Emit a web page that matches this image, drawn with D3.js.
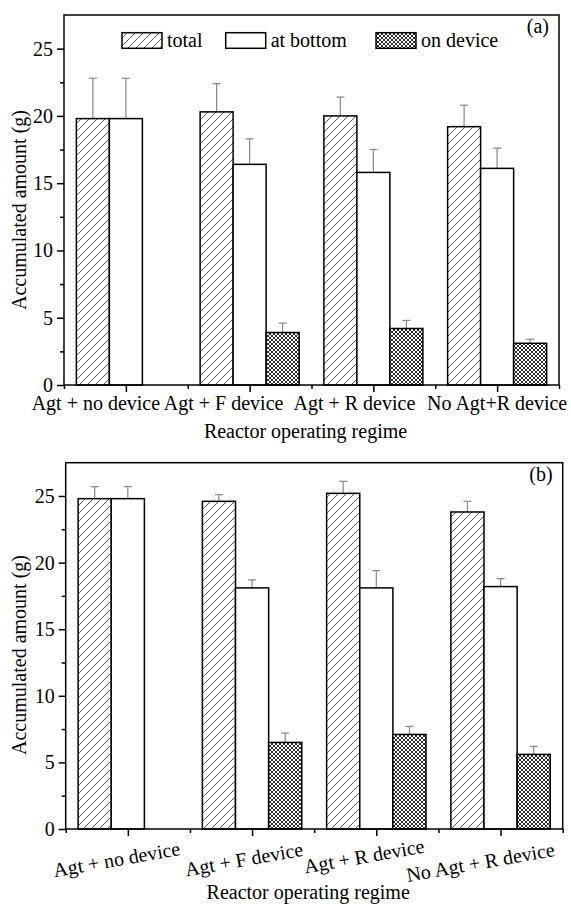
<!DOCTYPE html>
<html>
<head>
<meta charset="utf-8">
<script src="https://cdn.jsdelivr.net/npm/d3@7/dist/d3.min.js"></script>
<style>
  html, body { margin: 0; padding: 0; background: #fff; }
  svg { display: block; }
  svg text { font-family: "Liberation Serif", "DejaVu Serif", serif; }
</style>
</head>
<body>
<svg id="chart" width="571" height="904"></svg>
<script>
// ---------------- DATA ----------------
const seriesNames = ["total", "at bottom", "on device"];
const categoriesA = ["Agt + no device", "Agt + F device", "Agt + R device", "No Agt+R device"];
const categoriesB = ["Agt + no device", "Agt + F device", "Agt + R device", "No Agt + R device"];

const totalA     = [19.8, 20.3, 20.0, 19.2];
const totalErrA  = [3.0, 2.1, 1.4, 1.6];
const bottomA    = [19.8, 16.4, 15.8, 16.1];
const bottomErrA = [3.0, 1.9, 1.7, 1.5];
const deviceA    = [null, 3.9, 4.2, 3.1];
const deviceErrA = [null, 0.7, 0.6, 0.3];

const totalB     = [24.8, 24.6, 25.2, 23.8];
const totalErrB  = [0.9, 0.5, 0.9, 0.8];
const bottomB    = [24.8, 18.1, 18.1, 18.2];
const bottomErrB = [0.9, 0.6, 1.3, 0.6];
const deviceB    = [null, 6.5, 7.1, 5.6];
const deviceErrB = [null, 0.7, 0.6, 0.6];

const yTicks = [0, 5, 10, 15, 20, 25];
const yMinorTicks = [2.5, 7.5, 12.5, 17.5, 22.5];
const yMax = 27.5;
const xTitle = "Reactor operating regime";
const yTitle = "Accumulated amount (g)";

// ---------------- DRAWING ----------------
const FONT = "Liberation Serif, DejaVu Serif, serif";
const svg = d3.select("#chart");
const defs = svg.append("defs");

const hatch = defs.append("pattern").attr("id", "hatch")
  .attr("patternUnits", "userSpaceOnUse").attr("width", 8).attr("height", 8);
hatch.append("rect").attr("width", 8).attr("height", 8).attr("fill", "#fff");
hatch.append("path").attr("d", "M-2,2 L2,-2 M0,8 L8,0 M6,10 L10,6")
  .attr("stroke", "#444").attr("stroke-width", 0.9);

const cross = defs.append("pattern").attr("id", "cross")
  .attr("patternUnits", "userSpaceOnUse").attr("width", 4).attr("height", 4);
cross.append("rect").attr("width", 4).attr("height", 4).attr("fill", "#fff");
cross.append("path").attr("d", "M0,0 L4,4 M4,0 L0,4")
  .attr("stroke", "#2a2a2a").attr("stroke-width", 1.0);

const fills = ["url(#hatch)", "#fff", "url(#cross)"];
const fontSize = 20;

function txt(sel) {
  return sel.attr("font-family", FONT).attr("font-size", fontSize).attr("fill", "#000");
}

function panel(opts) {
  const { left, right, top, bottom, cats, series, errs, tag, rotate, labelDx, labelY, titleY, yTitleY } = opts;
  const g = svg.append("g");
  const x = d3.scaleLinear().domain([0.5, cats.length + 0.5]).range([left, right]);
  const y = d3.scaleLinear().domain([0, yMax]).range([bottom, top]);
  const bw = 0.2667; // bar width in category units

  series.forEach((vals, s) => {
    vals.forEach((v, i) => {
      if (v == null) return;
      const c = i + 1 + (s - 1) * bw;
      const x0 = x(c - bw / 2), x1 = x(c + bw / 2);
      const e = errs[s][i];
      g.append("line").attr("x1", x(c)).attr("x2", x(c)).attr("y1", y(v)).attr("y2", y(v + e))
        .attr("stroke", "#888").attr("stroke-width", 1.2);
      g.append("line").attr("x1", x(c) - 4).attr("x2", x(c) + 4).attr("y1", y(v + e)).attr("y2", y(v + e))
        .attr("stroke", "#888").attr("stroke-width", 1.2);
      g.append("rect").attr("x", x0).attr("y", y(v)).attr("width", x1 - x0).attr("height", y(0) - y(v))
        .attr("fill", fills[s]).attr("stroke", "#000").attr("stroke-width", 1.5);
    });
  });

  g.append("rect").attr("x", left).attr("y", top).attr("width", right - left).attr("height", bottom - top)
    .attr("fill", "none").attr("stroke", "#000").attr("stroke-width", 1.5);

  const ya = g.append("g").attr("transform", `translate(${left},0)`)
    .call(d3.axisLeft(y).tickValues(yTicks).tickSize(7).tickPadding(4).tickFormat(d3.format("d")));
  ya.attr("font-family", FONT);
  ya.select(".domain").remove();
  ya.selectAll("line").attr("stroke-width", 1.5);
  txt(ya.selectAll("text"));
  const ym = g.append("g").attr("transform", `translate(${left},0)`)
    .call(d3.axisLeft(y).tickValues(yMinorTicks).tickSize(4).tickFormat(""));
  ym.select(".domain").remove();
  ym.selectAll("line").attr("stroke-width", 1.5);

  const majors = d3.range(1, cats.length + 1);
  const minors = d3.range(0, cats.length + 1).map(d => d + 0.5);
  const xa = g.append("g").attr("transform", `translate(0,${bottom})`)
    .call(d3.axisBottom(x).tickValues(majors).tickSize(7).tickFormat(""));
  xa.select(".domain").remove();
  xa.selectAll("line").attr("stroke-width", 1.5);
  const xm = g.append("g").attr("transform", `translate(0,${bottom})`)
    .call(d3.axisBottom(x).tickValues(minors).tickSize(4).tickFormat(""));
  xm.select(".domain").remove();
  xm.selectAll("line").attr("stroke-width", 1.5);

  cats.forEach((c, i) => {
    txt(g.append("text").text(c)).attr("text-anchor", "middle")
      .attr("transform", `translate(${x(i + 1) + labelDx[i]},${labelY[i]}) rotate(${rotate})`);
  });

  txt(g.append("text").text(xTitle)).attr("text-anchor", "middle")
    .attr("x", (left + right) / 2 - 6).attr("y", titleY);
  txt(g.append("text").text(yTitle)).attr("text-anchor", "middle")
    .attr("transform", `translate(26,${yTitleY}) rotate(-90)`);
  txt(g.append("text").text(tag)).attr("text-anchor", "end")
    .attr("x", right - 10).attr("y", top + 18);
  return { x, y, g };
}

panel({
  left: 64, right: 559, top: 15, bottom: 385,
  cats: categoriesA,
  series: [totalA, bottomA, deviceA],
  errs: [totalErrA, bottomErrA, deviceErrA],
  tag: "(a)", rotate: 0,
  labelDx: [-30, -26, -19, 0], labelY: [410, 410, 410, 410],
  titleY: 438, yTitleY: 210
});

panel({
  left: 65.7, right: 562.7, top: 462.7, bottom: 829,
  cats: categoriesB,
  series: [totalB, bottomB, deviceB],
  errs: [totalErrB, bottomErrB, deviceErrB],
  tag: "(b)", rotate: -10,
  labelDx: [-10, -7, -11, -19], labelY: [866, 866, 863, 869],
  titleY: 899, yTitleY: 655
});

const legend = svg.append("g");
const legX = [122, 225.7, 376];
seriesNames.forEach((n, i) => {
  legend.append("rect").attr("x", legX[i]).attr("y", 32.7).attr("width", 40).attr("height", 15.6)
    .attr("fill", fills[i]).attr("stroke", "#000").attr("stroke-width", 1.5);
  txt(legend.append("text").text(n)).attr("x", legX[i] + 45).attr("y", 47);
});
</script>
</body>
</html>
